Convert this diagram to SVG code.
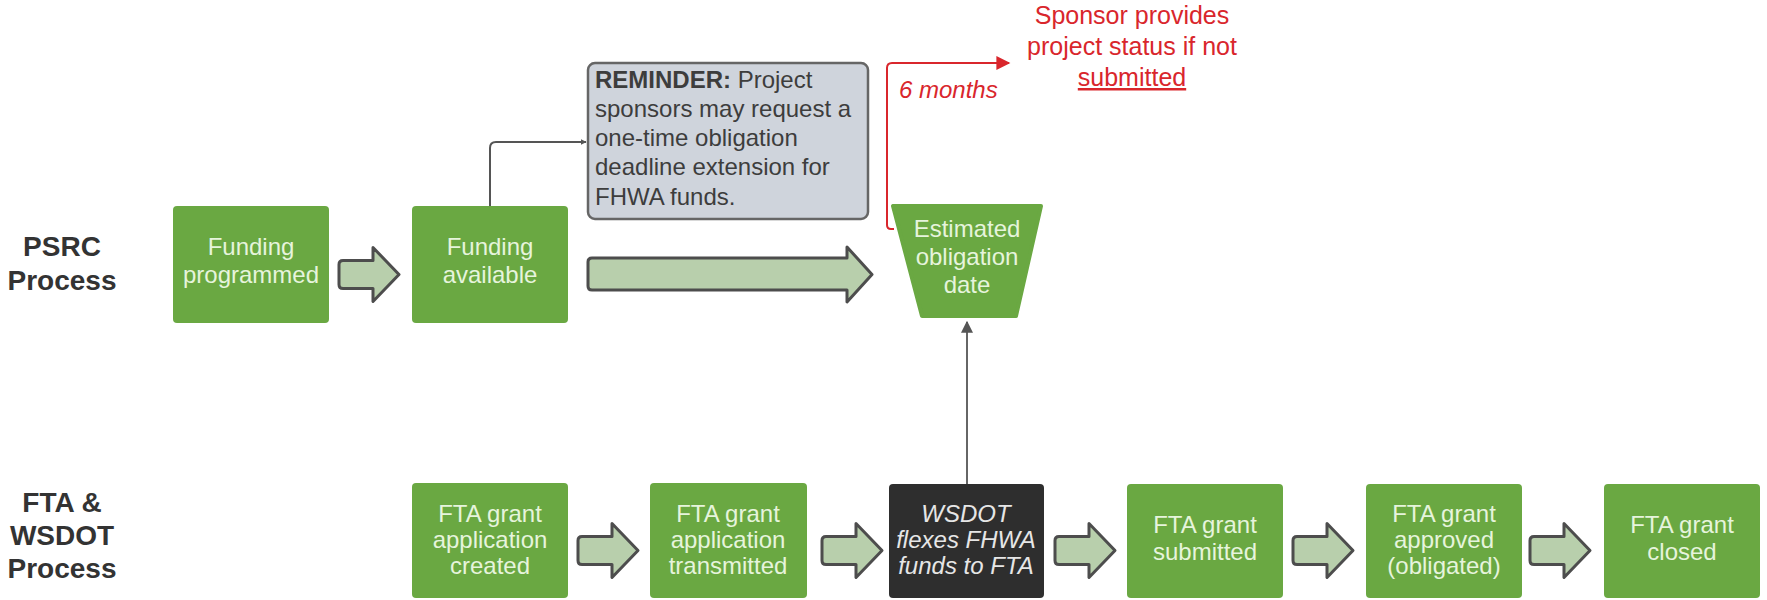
<svg xmlns="http://www.w3.org/2000/svg" width="1767" height="600" viewBox="0 0 1767 600">
<defs>
<style>
.box{fill:#6aa842;}
.bt{font-family:"Liberation Sans",Arial,sans-serif;font-size:24px;fill:#e6f4dc;text-anchor:middle;}
.lane{font-family:"Liberation Sans",Arial,sans-serif;font-size:28px;font-weight:bold;fill:#333;text-anchor:middle;}
.blk{fill:#b8cfac;stroke:#4d4d4d;stroke-width:3;stroke-linejoin:round;}
.red{font-family:"Liberation Sans",Arial,sans-serif;fill:#d9262c;}
.rem{font-family:"Liberation Sans",Arial,sans-serif;font-size:24px;fill:#3d3d3d;}
</style>
<path id="blk" class="blk" d="M4,-14 L34,-14 L34,-27 L60,0 L34,27 L34,14 L4,14 Q0,14 0,10 L0,-10 Q0,-14 4,-14 Z"/>
<marker id="ag" viewBox="0 0 10 10" refX="9" refY="5" markerWidth="6" markerHeight="6" orient="auto" markerUnits="userSpaceOnUse">
<path d="M0,0 L10,5 L0,10 Z" fill="#555"/>
</marker>
<marker id="ar" viewBox="0 0 10 10" refX="9" refY="5" markerWidth="16" markerHeight="14" orient="auto" markerUnits="userSpaceOnUse">
<path d="M0,0 L10,5 L0,10 Z" fill="#d9262c"/>
</marker>
<marker id="ag2" viewBox="0 0 10 10" refX="9" refY="5" markerWidth="12" markerHeight="12" orient="auto" markerUnits="userSpaceOnUse">
<path d="M0,0 L10,5 L0,10 Z" fill="#555"/>
</marker>
</defs>
<rect width="1767" height="600" fill="#ffffff"/>

<g id="lane-psrc">
<text class="lane" x="62" y="256">PSRC</text>
<text class="lane" x="62" y="290">Process</text>
</g>
<g id="lane-fta">
<text class="lane" x="62" y="512">FTA &amp;</text>
<text class="lane" x="62" y="545">WSDOT</text>
<text class="lane" x="62" y="578">Process</text>
</g>

<g id="connectors">
<use href="#blk" x="339" y="274.5"/>
<path class="blk" d="M592,258 L847,258 L847,247 L872,274.5 L847,302 L847,290 L592,290 Q588,290 588,286 L588,262 Q588,258 592,258 Z"/>
<use href="#blk" x="578" y="550.5"/>
<use href="#blk" x="822" y="550.5"/>
<use href="#blk" x="1055" y="550.5"/>
<use href="#blk" x="1293" y="550.5"/>
<use href="#blk" x="1530" y="550.5"/>
<path d="M490,206 L490,148 Q490,142 496,142 L586,142" fill="none" stroke="#555" stroke-width="2" marker-end="url(#ag)"/>
<path d="M967,484 L967,322" fill="none" stroke="#666" stroke-width="2" marker-end="url(#ag2)"/>
<path d="M894,229 L891,229 Q887,229 887,225 L887,68 Q887,63 892,63 L1009,63" fill="none" stroke="#d9262c" stroke-width="2" marker-end="url(#ar)"/>
<text class="red" x="899" y="98" font-size="24" font-style="italic">6 months</text>
</g>

<g id="n-funding-programmed">
<rect class="box" x="173" y="206" width="156" height="117" rx="4"/>
<text class="bt" x="251" y="255">Funding</text>
<text class="bt" x="251" y="283">programmed</text>
</g>
<g id="n-funding-available">
<rect class="box" x="412" y="206" width="156" height="117" rx="4"/>
<text class="bt" x="490" y="255">Funding</text>
<text class="bt" x="490" y="283">available</text>
</g>
<g id="n-reminder">
<rect x="588" y="63" width="280" height="156" rx="7" fill="#cfd4dc" stroke="#666" stroke-width="2.5"/>
<text class="rem" x="595" y="88"><tspan font-weight="bold">REMINDER:</tspan> Project</text>
<text class="rem" x="595" y="117">sponsors may request a</text>
<text class="rem" x="595" y="146">one-time obligation</text>
<text class="rem" x="595" y="175">deadline extension for</text>
<text class="rem" x="595" y="205">FHWA funds.</text>
</g>
<g id="n-estimated">
<path d="M893,206 L1041,206 L1016,316 L922,316 Z" fill="#6aa842" stroke="#6aa842" stroke-width="4" stroke-linejoin="round"/>
<text class="bt" x="967" y="237">Estimated</text>
<text class="bt" x="967" y="265">obligation</text>
<text class="bt" x="967" y="293">date</text>
</g>
<g id="n-sponsor-note">
<text class="red" x="1132" y="24" font-size="25" text-anchor="middle">Sponsor provides</text>
<text class="red" x="1132" y="55" font-size="25" text-anchor="middle">project status if not</text>
<text class="red" x="1132" y="86" font-size="25" text-anchor="middle" text-decoration="underline">submitted</text>
</g>

<g id="n-created">
<rect class="box" x="412" y="483" width="156" height="115" rx="4"/>
<text class="bt" x="490" y="522">FTA grant</text>
<text class="bt" x="490" y="548">application</text>
<text class="bt" x="490" y="574">created</text>
</g>
<g id="n-transmitted">
<rect class="box" x="650" y="483" width="157" height="115" rx="4"/>
<text class="bt" x="728" y="522">FTA grant</text>
<text class="bt" x="728" y="548">application</text>
<text class="bt" x="728" y="574">transmitted</text>
</g>
<g id="n-wsdot">
<rect x="889" y="484" width="155" height="114" rx="4" fill="#2e2e2e"/>
<text class="bt" x="966" y="522" font-style="italic" style="fill:#e6e6e6">WSDOT</text>
<text class="bt" x="966" y="548" font-style="italic" style="fill:#e6e6e6">flexes FHWA</text>
<text class="bt" x="966" y="574" font-style="italic" style="fill:#e6e6e6">funds to FTA</text>
</g>
<g id="n-submitted">
<rect class="box" x="1127" y="484" width="156" height="114" rx="4"/>
<text class="bt" x="1205" y="533">FTA grant</text>
<text class="bt" x="1205" y="560">submitted</text>
</g>
<g id="n-approved">
<rect class="box" x="1366" y="484" width="156" height="114" rx="4"/>
<text class="bt" x="1444" y="522">FTA grant</text>
<text class="bt" x="1444" y="548">approved</text>
<text class="bt" x="1444" y="574">(obligated)</text>
</g>
<g id="n-closed">
<rect class="box" x="1604" y="484" width="156" height="114" rx="4"/>
<text class="bt" x="1682" y="533">FTA grant</text>
<text class="bt" x="1682" y="560">closed</text>
</g>
</svg>
